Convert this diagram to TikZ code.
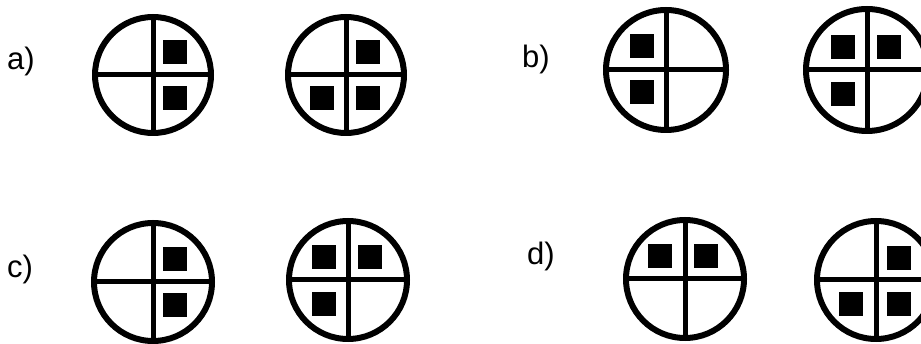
\documentclass[tikz,border=0pt]{standalone}
\usepackage{fontspec}
\setmainfont{Liberation Sans}

\begin{document}
\begin{tikzpicture}[x=1pt,y=-1pt,
    ring/.style={line width=6pt},
    bar/.style={line width=5pt},
    box/.style={fill=black},
    lbl/.style={anchor=base west,inner sep=0pt,font=\fontsize{31}{36}\selectfont}]
  \useasboundingbox (0,0) rectangle (921,344);
  \node (la) [lbl] at (7,70) {a)};
  \node (lb) [lbl] at (522,68) {b)};
  \node (lc) [lbl] at (7,278) {c)};
  \node (ld) [lbl] at (527,265) {d)};
  \foreach \n/\x/\y/\r/\q in {
      a1/153/75/58/{22/-23,22/23},
      a2/346/75/58/{22/-23,-24/23,22/23},
      b1/666/70/60/{-24/-24,-24/22},
      b2/867/70/61/{-24/-23,22/-23,-24/24},
      c1/153/282/59/{22/-23,22/23},
      c2/348/280/59/{-24/-23,22/-23,-24/24},
      d1/685/279/59/{-25/-23,21/-23},
      d2/876/280/59/{23/-22,-25/24,23/24}} {
    \coordinate (\n) at (\x,\y);
    \draw[ring] (\n) circle (\r);
    \draw[bar] (\n) ++(0,-\r) -- ++(0,2*\r) (\n) ++(-\r,0) -- ++(2*\r,0);
    \foreach \dx/\dy in \q
      \fill[box] (\n) ++(\dx-12,\dy-12) rectangle ++(24,24);
  }
\end{tikzpicture}
\end{document}
